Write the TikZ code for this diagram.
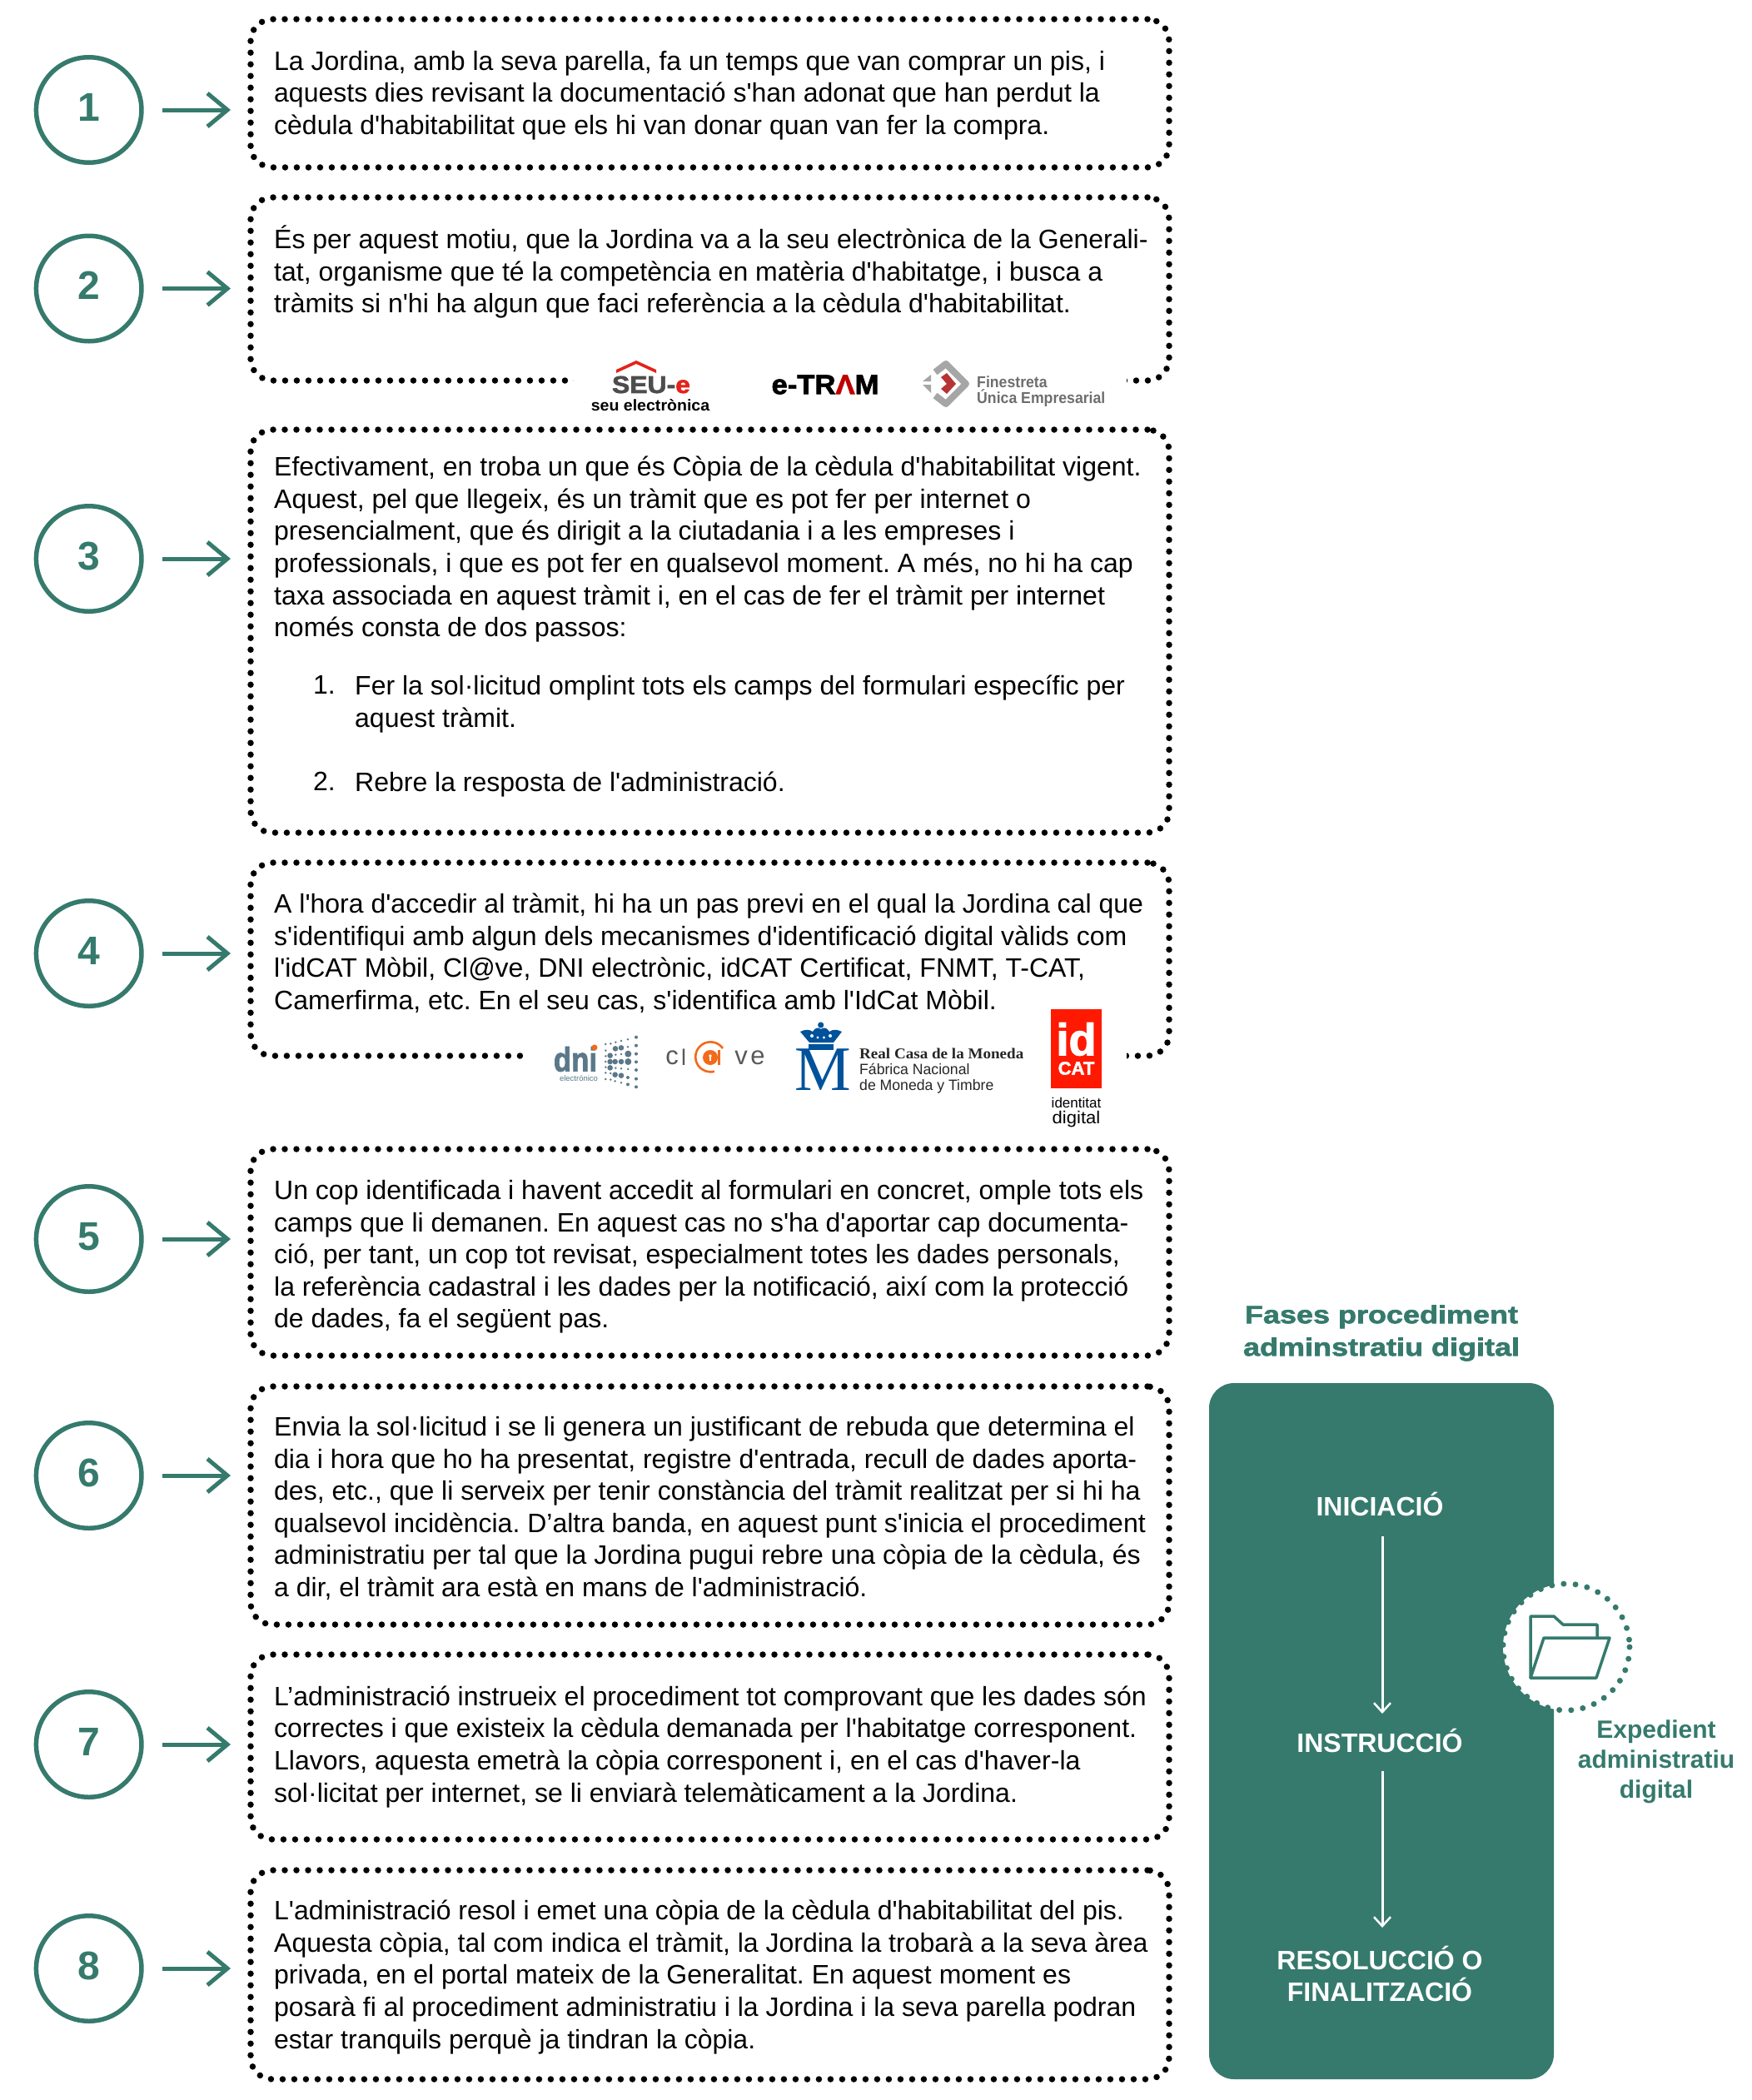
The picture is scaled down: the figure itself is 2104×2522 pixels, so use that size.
\documentclass[tikz,border=0pt]{standalone}
\usepackage{fontspec}
\setmainfont{Liberation Sans}
\newfontfamily\bodyfont{Liberation Sans}
\newfontfamily\titlefont[BoldFeatures={FakeStretch=1.2,FakeBold=2}]{Liberation Sans}
\newfontfamily\heavyfont[BoldFeatures={FakeBold=2}]{Liberation Sans}
\newfontfamily\serifont{Liberation Serif}
\usepackage{xcolor}
\usetikzlibrary{arrows.meta}
\definecolor{teal1}{HTML}{357A6D}
\definecolor{logored}{HTML}{E2231A}
\definecolor{logogrey}{HTML}{6E6E6E}
\definecolor{logoblue}{HTML}{00529B}
\definecolor{dniblue}{HTML}{5A7889}
\definecolor{logoorange}{HTML}{F26A1B}
\tikzset{
  numcircle/.style={circle,draw=teal1,line width=5.5pt,minimum size=126.5pt,inner sep=0pt,text=teal1,text depth=7pt,font=\fontsize{48}{48}\selectfont\bfseries},
  steparrow/.style={draw=teal1,line width=5pt,-{Straight Barb[length=24pt,width=40pt,line width=5pt]},shorten <=22pt,shorten >=24pt},
  dotbox/.style={rectangle,draw=black,line width=7.5pt,line cap=round,dash pattern=on 0pt off 14pt,rounded corners=26pt,minimum width=1103pt,inner sep=0pt,outer sep=0pt,anchor=north west},
  bodytext/.style={anchor=north west,align=left,inner sep=0pt,font=\bodyfont\frenchspacing\fontsize{32}{38.6}\selectfont},
  gapbox/.style={fill=white,minimum height=30pt,inner sep=0pt},
  phase/.style={text=white,align=center,font=\fontsize{32}{37.5}\selectfont\bfseries},
  phasearrow/.style={draw=white,line width=3pt,-{Straight Barb[length=11pt,width=20pt,line width=2.5pt]}},
  sidetext/.style={text=teal1,align=center,font=\fontsize{30}{36.2}\selectfont\bfseries}
}
\begin{document}
\begin{tikzpicture}[x=1pt,y=-1pt]
  \useasboundingbox (0,0) rectangle (2104,2522);
  % steps
  \node[numcircle] (c1) at (106.7,132) {1};
  \node[numcircle] (c2) at (106.7,346.5) {2};
  \node[numcircle] (c3) at (106.7,671) {3};
  \node[numcircle] (c4) at (106.7,1145) {4};
  \node[numcircle] (c5) at (106.7,1488) {5};
  \node[numcircle] (c6) at (106.7,1772) {6};
  \node[numcircle] (c7) at (106.7,2095) {7};
  \node[numcircle] (c8) at (106.7,2364) {8};
  \node[dotbox,minimum height=178pt] (b1) at (301,23) {};
  \node[dotbox,minimum height=220pt] (b2) at (301,237) {};
  \node[dotbox,minimum height=484pt] (b3) at (301,516) {};
  \node[dotbox,minimum height=232pt] (b4) at (301,1036) {};
  \node[dotbox,minimum height=248pt] (b5) at (301,1380) {};
  \node[dotbox,minimum height=286pt] (b6) at (301,1665) {};
  \node[dotbox,minimum height=222pt] (b7) at (301,1987) {};
  \node[dotbox,minimum height=251pt] (b8) at (301,2246) {};
  \draw[steparrow] (c1.east) -- (c1.east -| b1.west);
  \draw[steparrow] (c2.east) -- (c2.east -| b2.west);
  \draw[steparrow] (c3.east) -- (c3.east -| b3.west);
  \draw[steparrow] (c4.east) -- (c4.east -| b4.west);
  \draw[steparrow] (c5.east) -- (c5.east -| b5.west);
  \draw[steparrow] (c6.east) -- (c6.east -| b6.west);
  \draw[steparrow] (c7.east) -- (c7.east -| b7.west);
  \draw[steparrow] (c8.east) -- (c8.east -| b8.west);
  \node[gapbox,minimum width=664pt] (gap2) at (1021,457) {};
  \node[gapbox,minimum width=722pt] (gap4) at (992,1268) {};
  % texts
  \node[bodytext] (t1) at (329,61) {La Jordina, amb la seva parella, fa un temps que van comprar un pis, i\\aquests dies revisant la documentació s'han adonat que han perdut la\\cèdula d'habitabilitat que els hi van donar quan van fer la compra.};
  \node[bodytext] (t2) at (329,270.5) {És per aquest motiu, que la Jordina va a la seu electrònica de la Generali-\\tat, organisme que té la competència en matèria d'habitatge, i busca a\\tràmits si n'hi ha algun que faci referència a la cèdula d'habitabilitat.};
  \node[bodytext] (t3) at (329,548) {Efectivament, en troba un que és Còpia de la cèdula d'habitabilitat vigent.\\Aquest, pel que llegeix, és un tràmit que es pot fer per internet o\\presencialment, que és dirigit a la ciutadania i a les empreses i\\professionals, i que es pot fer en qualsevol moment. A més, no hi ha cap\\taxa associada en aquest tràmit i, en el cas de fer el tràmit per internet\\només consta de dos passos:};
  \node[bodytext] (t3a) at (376,811) {1.\\\\\\2.};
  \node[bodytext] (t3b) at (426,811) {Fer la sol·licitud omplint tots els camps del formulari específic per\\aquest tràmit.\\\\Rebre la resposta de l'administració.};
  \node[bodytext] (t4) at (329,1073) {A l'hora d'accedir al tràmit, hi ha un pas previ en el qual la Jordina cal que\\s'identifiqui amb algun dels mecanismes d'identificació digital vàlids com\\l'idCAT Mòbil, Cl@ve, DNI electrònic, idCAT Certificat, FNMT, T-CAT,\\Camerfirma, etc. En el seu cas, s'identifica amb l'IdCat Mòbil.};
  \node[bodytext] (t5) at (329,1417) {Un cop identificada i havent accedit al formulari en concret, omple tots els\\camps que li demanen. En aquest cas no s'ha d'aportar cap documenta-\\ció, per tant, un cop tot revisat, especialment totes les dades personals,\\la referència cadastral i les dades per la notificació, així com la protecció\\de dades, fa el següent pas.};
  \node[bodytext] (t6) at (329,1701) {Envia la sol·licitud i se li genera un justificant de rebuda que determina el\\dia i hora que ho ha presentat, registre d'entrada, recull de dades aporta-\\des, etc., que li serveix per tenir constància del tràmit realitzat per si hi ha\\qualsevol incidència. D’altra banda, en aquest punt s'inicia el procediment\\administratiu per tal que la Jordina pugui rebre una còpia de la cèdula, és\\a dir, el tràmit ara està en mans de l'administració.};
  \node[bodytext] (t7) at (329,2024.5) {L’administració instrueix el procediment tot comprovant que les dades són\\correctes i que existeix la cèdula demanada per l'habitatge corresponent.\\Llavors, aquesta emetrà la còpia corresponent i, en el cas d'haver-la\\sol·licitat per internet, se li enviarà telemàticament a la Jordina.};
  \node[bodytext] (t8) at (329,2282) {L'administració resol i emet una còpia de la cèdula d'habitabilitat del pis.\\Aquesta còpia, tal com indica el tràmit, la Jordina la trobarà a la seva àrea\\privada, en el portal mateix de la Generalitat. En aquest moment es\\posarà fi al procediment administratiu i la Jordina i la seva parella podran\\estar tranquils perquè ja tindran la còpia.};
  % logos box 2
  \fill[logored] (740,448) -- (764,437) -- (788,448) -- (788,444) -- (764,433) -- (740,444) -- cycle;
  \node[inner sep=0pt,font=\heavyfont\fontsize{29}{29}\selectfont\bfseries] (seu) at (782,462) {\scalebox{1.1}[1]{\textcolor{logogrey!70!black}{SEU-}\textcolor{logored}{e}}};
  \node[inner sep=0pt,font=\fontsize{19}{19}\selectfont\bfseries] (seutxt) at (781,487) {\scalebox{1.03}[1]{seu electrònica}};
  \node[inner sep=0pt,font=\heavyfont\fontsize{33}{33}\selectfont\bfseries] (tram) at (991,462) {\scalebox{1.05}[1]{e-TR\textcolor{red!75!black}{Λ}M}};
  \draw[black!35,line width=8pt,line join=round] (1123,447) -- (1136,437) -- (1160,461) -- (1136,485) -- (1123,475);
  \fill[black!35] (1108,458) -- (1118,450) -- (1118,458) -- cycle;
  \fill[black!35] (1108,462) -- (1118,462) -- (1118,472) -- cycle;
  \fill[red!65!black!80] (1130,453) -- (1137,448) -- (1148,461) -- (1137,473) -- (1130,467) -- (1137,461) -- cycle;
  \node[anchor=west,inner sep=0pt,align=left,text=logogrey,font=\fontsize{19}{19}\selectfont\bfseries] (fue) at (1173,470) {\scalebox{.93}[1]{Finestreta}\\\scalebox{.93}[1]{Única Empresarial}};
  % logos box 4
  \node[inner sep=0pt,text=dniblue,font=\heavyfont\fontsize{41}{41}\selectfont\bfseries] (dni) at (691,1272) {\scalebox{.85}[1]{dni}};
  \fill[logoorange] (714,1258) circle (3.5);
  \node[inner sep=0pt,text=dniblue,font=\fontsize{9.5}{9.5}\selectfont] (dnitxt) at (695,1295) {electrónico};
  \begin{scope}[shift={(650,1220)},x=0.3333pt,y=-0.3333pt]
    \foreach \px/\py in {232/102,250/100,268/95,288/90,312/85,232/125,312/112,232/145,268/140,288/138,232/165,232/185,268/188,288/190,313/192,232/205,250/207,232/228,250/230,266/235,288/241}
      \fill[dniblue] (\px,\py) circle (1.4pt);
    \foreach \px/\py in {342/77,342/107,342/137,342/166,342/195,312/222,342/227,312/247,342/256}
      \fill[dniblue] (\px,\py) circle (2pt);
    \foreach \px/\py in {267/118,288/115,248/143,248/165,266/165,288/165,248/187,266/212,288/215}
      \fill[dniblue] (\px,\py) circle (3.3pt);
    \foreach \px/\py in {313/137,313/165}
      \fill[dniblue] (\px,\py) circle (4pt);
  \end{scope}
  \node[inner sep=0pt,text=black!65,font=\fontsize{31}{31}\selectfont] (clc) at (807,1270) {c};
  \node[inner sep=0pt,text=black!65,font=\fontsize{27}{27}\selectfont] (cll) at (821,1270) {l};
  \draw[logoorange,line width=2.6pt] (868,1259) arc (-35:-285:18);
  \fill[logoorange] (853,1270) circle (9);
  \fill[logoorange] (862,1261) rectangle (864.5,1279);
  \fill[white] (853,1268) circle (1.8);
  \fill[white] (852.2,1268) rectangle (853.8,1274);
  \node[inner sep=0pt,text=black!65,font=\fontsize{31}{31}\selectfont] (clv) at (890,1270) {v};
  \node[inner sep=0pt,text=black!65,font=\fontsize{31}{31}\selectfont] (cle) at (910,1270) {e};
  \fill[logoblue] (971,1254) rectangle (1001,1261);
  \fill[logoblue] (985.7,1231) circle (3.6);
  \fill[logoblue] (972,1252) -- (961,1239) .. controls (967,1236) and (972,1236) .. (976,1239) .. controls (979,1234) and (983,1233) .. (985.7,1236) .. controls (989,1233) and (993,1234) .. (996,1239) .. controls (1000,1236) and (1005,1236) .. (1011,1239) -- (1001,1252) -- cycle;
  \fill[white] (975,1244) circle (2);
  \fill[white] (982,1246) circle (1.6);
  \fill[white] (989.5,1246) circle (1.6);
  \fill[white] (997,1244) circle (2);
  \node[inner sep=0pt,text=logoblue,font=\serifont\fontsize{76}{76}\selectfont] (fnmt) at (988,1285) {M};
  \node[anchor=west,inner sep=0pt,align=left,text=black!85,font=\fontsize{18}{19}\selectfont] (fnmttxt) at (1032,1286.5) {{\serifont\bfseries\scalebox{1.06}[1]{Real Casa de la Moneda}}\\\scalebox{.98}[1]{Fábrica Nacional}\\\scalebox{.98}[1]{de Moneda y Timbre}};
  \node[fill=red!80!orange,minimum width=61pt,minimum height=95pt,inner sep=0pt] (idcat) at (1292.5,1259.5) {};
  \node[inner sep=0pt,text=white,font=\heavyfont\fontsize{54}{54}\selectfont\bfseries] (idt) at (1292.5,1248) {id};
  \node[inner sep=0pt,text=white,font=\heavyfont\fontsize{22}{22}\selectfont\bfseries] (cat) at (1292.5,1283) {CAT};
  \node[inner sep=0pt,font=\fontsize{17}{18}\selectfont] (iddig) at (1292.5,1324) {identitat};
  \node[inner sep=0pt,font=\fontsize{21}{21}\selectfont] (iddig2) at (1292.5,1344) {\scalebox{1.05}[1]{digital}};
  % phases
  \node[text=teal1,align=center,inner sep=0pt,font=\titlefont\fontsize{30}{39}\selectfont\bfseries] (title) at (1659,1601) {Fases procediment\\adminstratiu digital};
  \node[fill=teal1,rounded corners=30pt,minimum width=414pt,minimum height=836pt,inner sep=0pt] (panel) at (1659,2079) {};
  \node[phase] (ini) at (1657,1806.5) {INICIACIÓ};
  \node[phase] (ins) at (1657,2090) {INSTRUCCIÓ};
  \node[phase] (res) at (1657,2370.5) {RESOLUCCIÓ O\\FINALITZACIÓ};
  \draw[phasearrow] (1660,1845) -- (1660,2058);
  \draw[phasearrow] (1660,2127) -- (1660,2315);
  \node[circle,fill=white,minimum size=152pt,inner sep=0pt] (exp) at (1881,1978) {};
  \draw[teal1,line width=7pt,line cap=round,dash pattern=on 0pt off 14.2pt] (exp) circle (76);
  \draw[teal1,line width=3.5pt,line join=round] (1838,2015) -- (1838,1941) -- (1866,1941) -- (1877,1951) -- (1918,1951) -- (1918,1966);
  \draw[teal1,line width=3.5pt,line join=round] (1838,2015) -- (1854,1967) -- (1933,1967) -- (1917,2015) -- cycle;
  \node[sidetext] (side) at (1989,2116) {Expedient\\administratiu\\digital};
\end{tikzpicture}
\end{document}
